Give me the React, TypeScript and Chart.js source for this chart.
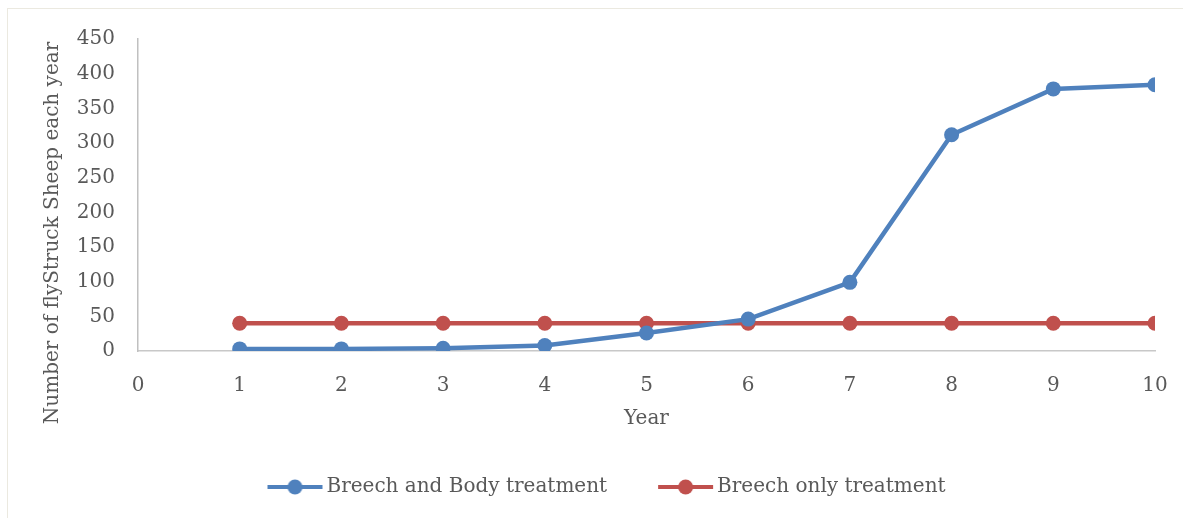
import React, { useEffect, useRef } from "react";
import { Chart, registerables } from "chart.js";

Chart.register(...registerables);

const years = [1, 2, 3, 4, 5, 6, 7, 8, 9, 10];
const breechAndBody = [3, 3, 4, 8, 26, 46, 99, 312, 378, 384];
const breechOnly = [40, 40, 40, 40, 40, 40, 40, 40, 40, 40];
const seriesNames = ["Breech and Body treatment", "Breech only treatment"];
const seriesColors = ["#4f81bd", "#c0504d"];
const xTitle = "Year";
const yTitle = "Number of flyStruck Sheep each year";

const FONT = "'DejaVu Serif', serif";
const TEXT = "#595959";

function makeMarker(color: string): HTMLCanvasElement {
  const c = document.createElement("canvas");
  c.width = 120;
  c.height = 20;
  const ctx = c.getContext("2d")!;
  ctx.strokeStyle = color;
  ctx.lineWidth = 4;
  ctx.beginPath();
  ctx.moveTo(56, 10);
  ctx.lineTo(111, 10);
  ctx.stroke();
  ctx.fillStyle = color;
  ctx.beginPath();
  ctx.arc(83.5, 10, 7.5, 0, Math.PI * 2);
  ctx.fill();
  return c;
}

const yTitlePlugin = {
  id: "yTitlePlugin",
  afterDraw(chart: any) {
    const ctx = chart.ctx;
    ctx.save();
    ctx.translate(53, 233);
    ctx.rotate(-Math.PI / 2);
    ctx.font = `20px ${FONT}`;
    ctx.fillStyle = TEXT;
    ctx.textAlign = "center";
    ctx.textBaseline = "middle";
    ctx.fillText(yTitle, 0, 0);
    ctx.restore();
  },
};

export default function App() {
  const ref = useRef<HTMLCanvasElement | null>(null);

  useEffect(() => {
    if (!ref.current) return;
    const markers = seriesColors.map(makeMarker);
    const mk = (vals: number[]) => years.map((x, i) => ({ x, y: vals[i] }));
    const chart = new Chart(ref.current, {
      type: "line",
      data: {
        datasets: [
          {
            label: seriesNames[0],
            data: mk(breechAndBody),
            borderColor: seriesColors[0],
            backgroundColor: seriesColors[0],
            borderWidth: 4.5,
            pointRadius: 7.5,
            pointHoverRadius: 7.5,
            pointBorderWidth: 0,
            tension: 0,
          },
          {
            label: seriesNames[1],
            data: mk(breechOnly),
            borderColor: seriesColors[1],
            backgroundColor: seriesColors[1],
            borderWidth: 4.5,
            pointRadius: 7.5,
            pointHoverRadius: 7.5,
            pointBorderWidth: 0,
            tension: 0,
          },
        ],
      },
      options: {
        animation: false,
        responsive: false,
        maintainAspectRatio: false,
        layout: { padding: { left: 17, right: 28, top: 39, bottom: 11 } },
        scales: {
          x: {
            type: "linear",
            min: 0,
            max: 10,
            grid: { display: false, drawTicks: false },
            border: { display: true, color: "#c8c8c8", width: 1.5 },
            ticks: {
              stepSize: 1,
              padding: 23,
              color: TEXT,
              font: { family: FONT, size: 20 },
              maxRotation: 0,
            },
            title: {
              display: true,
              text: xTitle,
              color: TEXT,
              font: { family: FONT, size: 20 },
              padding: { top: 0, bottom: 36 },
            },
            afterFit(scale: any) {
              scale.height = 116;
              scale.paddingLeft = 0;
              scale.paddingRight = 0;
            },
          },
          y: {
            min: 0,
            max: 450,
            grid: { display: false, drawTicks: false },
            border: { display: true, color: "#c0c0c0", width: 1.5 },
            ticks: {
              stepSize: 50,
              padding: 23,
              color: TEXT,
              font: { family: FONT, size: 20 },
            },
            afterFit(scale: any) {
              scale.width = 121;
            },
          },
        },
        plugins: {
          tooltip: { enabled: false },
          legend: {
            position: "bottom",
            align: "center",
            labels: {
              usePointStyle: true,
              pointStyleWidth: 90,
              padding: 10,
              color: TEXT,
              font: { family: FONT, size: 20 },
              generateLabels(ch: any) {
                const items = (Chart.defaults.plugins.legend.labels as any).generateLabels(ch);
                items.forEach((it: any, i: number) => {
                  it.pointStyle = markers[i];
                });
                return items;
              },
            },
          },
        },
      },
      plugins: [yTitlePlugin],
    } as any);
    return () => chart.destroy();
  }, []);

  return (
    <div style={{ position: "absolute", left: 0, top: 0, width: 1183, height: 518, background: "#fff" }}>
      <div
        style={{
          position: "absolute",
          left: 7,
          top: 8,
          width: 1176,
          height: 510,
          borderTop: "1px solid #ebe9e0",
          borderLeft: "1px solid #ebe9e0",
          boxSizing: "border-box",
        }}
      />
      <canvas
        ref={ref}
        width={1183}
        height={518}
        style={{ position: "absolute", left: 0, top: 0, width: 1183, height: 518 }}
      />
    </div>
  );
}
